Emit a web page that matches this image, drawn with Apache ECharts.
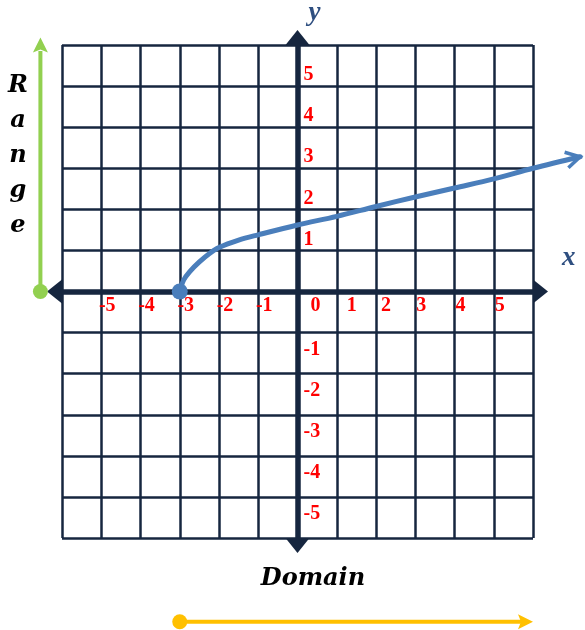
<!DOCTYPE html>
<html>
<head>
<meta charset="utf-8">
<script src="https://cdn.jsdelivr.net/npm/echarts@6/dist/echarts.min.js"></script>
<style>
    html, body { margin: 0; padding: 0; background: #fff; }
    #main { width: 585px; height: 630px; }
</style>
</head>
<body>
<div id="main"></div>
<script>
// curve (starts at -3, goes on past the grid)
var curveX = [-3, -2.9, -2.75, -2.5, -2.25, -2, -1.5, -1, 0, 1, 2, 3, 4, 5, 6, 7.2];
var curveY = [0, 0.28, 0.48, 0.72, 0.92, 1.07, 1.25, 1.38, 1.62, 1.83, 2.07, 2.3, 2.52, 2.74, 3.0, 3.28];

var xTickLabels = [-5, -4, -3, -2, -1, 0, 1, 2, 3, 4, 5];
var yTickLabels = [-5, -4, -3, -2, -1, 1, 2, 3, 4, 5];

var rangeY = [0, 6];
var domainX = [-3, 6];

// where the range / domain arrows sit (outside the grid)
var rangeLineX = -6.55;
var domainLineY = -8.04;

var navy = '#16263f';
var blue = '#4a7ebb';
var labelFont = '"Liberation Serif", "DejaVu Serif", serif';

var chart = echarts.init(document.getElementById('main'));

// filled arrow head, tip at `tip`, pointing along `ang`
function arrowHead(tip, ang, len, half, color) {
    var c = Math.cos(ang), s = Math.sin(ang);
    var bx = tip[0] - len * c, by = tip[1] - len * s;
    return {
        type: 'polygon',
        shape: {
            points: [
                tip,
                [bx + half * s, by - half * c],
                [bx + 3 * c, by + 3 * s],
                [bx - half * s, by + half * c]
            ]
        },
        style: {fill: color}
    };
}

function renderCurve(params, api) {
    var pts = [];
    for (var i = 0; i < curveX.length; i++) {
        pts.push(api.coord([curveX[i], curveY[i]]));
    }
    var n = pts.length;
    var end = pts[n - 1], prev = pts[n - 2];
    var ang = Math.atan2(end[1] - prev[1], end[0] - prev[0]);
    var c = Math.cos(ang), s = Math.sin(ang);
    var bx = end[0] - 14 * c, by = end[1] - 14 * s;
    return {
        type: 'group',
        children: [{
            type: 'polyline',
            shape: {points: pts, smooth: 0.35},
            style: {stroke: blue, lineWidth: 5, fill: null, lineCap: 'round'}
        }, {
            type: 'circle',
            shape: {cx: pts[0][0], cy: pts[0][1], r: 8},
            style: {fill: blue}
        }, {
            type: 'polyline',
            shape: {points: [[bx + 8 * s, by - 8 * c], end, [bx - 8 * s, by + 8 * c]]},
            style: {stroke: blue, lineWidth: 3.5, fill: null, lineJoin: 'miter'}
        }]
    };
}

function arrowRenderer(from, to, color, overshoot) {
    return function (params, api) {
        var a = api.coord(from);
        var b = api.coord(to);
        var ang = Math.atan2(b[1] - a[1], b[0] - a[0]);
        var tip = [b[0] + overshoot * Math.cos(ang), b[1] + overshoot * Math.sin(ang)];
        return {
            type: 'group',
            children: [{
                type: 'line',
                shape: {x1: a[0], y1: a[1], x2: b[0] - 6 * Math.cos(ang), y2: b[1] - 6 * Math.sin(ang)},
                style: {stroke: color, lineWidth: 4}
            }, {
                type: 'circle',
                shape: {cx: a[0], cy: a[1], r: 7.5},
                style: {fill: color}
            }, arrowHead(tip, ang, 15, 7.5, color)]
        };
    };
}

function labelStyle(pad) {
    return {color: '#ff0000', fontSize: 20, fontWeight: 'bold', fontFamily: labelFont, padding: pad};
}

var option = {
    animation: false,
    grid: {left: 62, top: 45, right: 52, bottom: 92},
    xAxis: {
        type: 'value',
        position: 'bottom',
        offset: -246.5,
        min: -6,
        max: 6,
        interval: 1,
        name: 'x',
        nameLocation: 'end',
        nameGap: 29,
        nameTextStyle: {
            color: '#2f4f80',
            fontSize: 27,
            fontStyle: 'italic',
            fontWeight: 'bold',
            fontFamily: labelFont,
            verticalAlign: 'bottom',
            padding: [0, 0, 20, 0]
        },
        axisLine: {
            show: true,
            onZero: false,
            symbol: ['triangle', 'triangle'],
            symbolSize: [24, 15],
            symbolOffset: [-7.5, 7.5],
            lineStyle: {color: navy, width: 5.5}
        },
        axisTick: {show: false},
        splitLine: {show: true, lineStyle: {color: navy, width: 2.5}},
        axisLabel: {
            margin: 4,
            formatter: function (v) {
                if (xTickLabels.indexOf(v) < 0) return '';
                if (v === 0) return '{z|0}';
                if (v === 1) return '{o|1}';
                if (v === 2) return '{t|2}';
                return '{n|' + v + '}';
            },
            rich: {
                n: labelStyle([0, 0, 0, 12]),
                t: labelStyle([0, 0, 0, 20]),
                o: labelStyle([0, 0, 0, 30]),
                z: labelStyle([0, 0, 0, 36])
            }
        }
    },
    yAxis: {
        type: 'value',
        position: 'left',
        offset: -235.5,
        min: -6,
        max: 6,
        interval: 1,
        name: 'y',
        nameLocation: 'end',
        nameGap: 18,
        nameTextStyle: {
            color: '#2f4f80',
            fontSize: 27,
            fontStyle: 'italic',
            fontWeight: 'bold',
            fontFamily: labelFont,
            padding: [0, 0, 0, 34]
        },
        axisLine: {
            show: true,
            onZero: false,
            symbol: ['triangle', 'triangle'],
            symbolSize: [24, 15],
            symbolOffset: [-7.5, 7.5],
            lineStyle: {color: navy, width: 5.5}
        },
        axisTick: {show: false},
        splitLine: {show: true, lineStyle: {color: navy, width: 2.5}},
        axisLabel: {
            inside: true,
            margin: 6,
            formatter: function (v) {
                if (yTickLabels.indexOf(v) < 0) return '';
                return v > 0 ? '{p|' + v + '}' : '{m|' + v + '}';
            },
            rich: {
                p: labelStyle([0, 0, 22, 0]),
                m: labelStyle([34, 0, 0, 0])
            }
        }
    },
    graphic: [{
        type: 'text',
        x: 18,
        y: 68,
        style: {
            text: 'R\na\nn\ng\ne',
            fill: '#000',
            font: 'italic bold 24px "DejaVu Serif", serif',
            lineHeight: 35,
            align: 'center'
        }
    }, {
        type: 'text',
        x: 313,
        y: 567,
        style: {
            text: 'Domain',
            fill: '#000',
            font: 'italic bold 24px "DejaVu Serif", serif',
            align: 'center'
        }
    }],
    series: [{
        name: 'curve',
        type: 'custom',
        clip: false,
        data: [0],
        renderItem: renderCurve,
        z: 5
    }, {
        name: 'range',
        type: 'custom',
        clip: false,
        data: [0],
        renderItem: arrowRenderer([rangeLineX, rangeY[0]], [rangeLineX, rangeY[1]], '#92d050', 7.5)
    }, {
        name: 'domain',
        type: 'custom',
        clip: false,
        data: [0],
        renderItem: arrowRenderer([domainX[0], domainLineY], [domainX[1], domainLineY], '#ffc000', 0)
    }]
};

chart.setOption(option);
</script>
</body>
</html>
